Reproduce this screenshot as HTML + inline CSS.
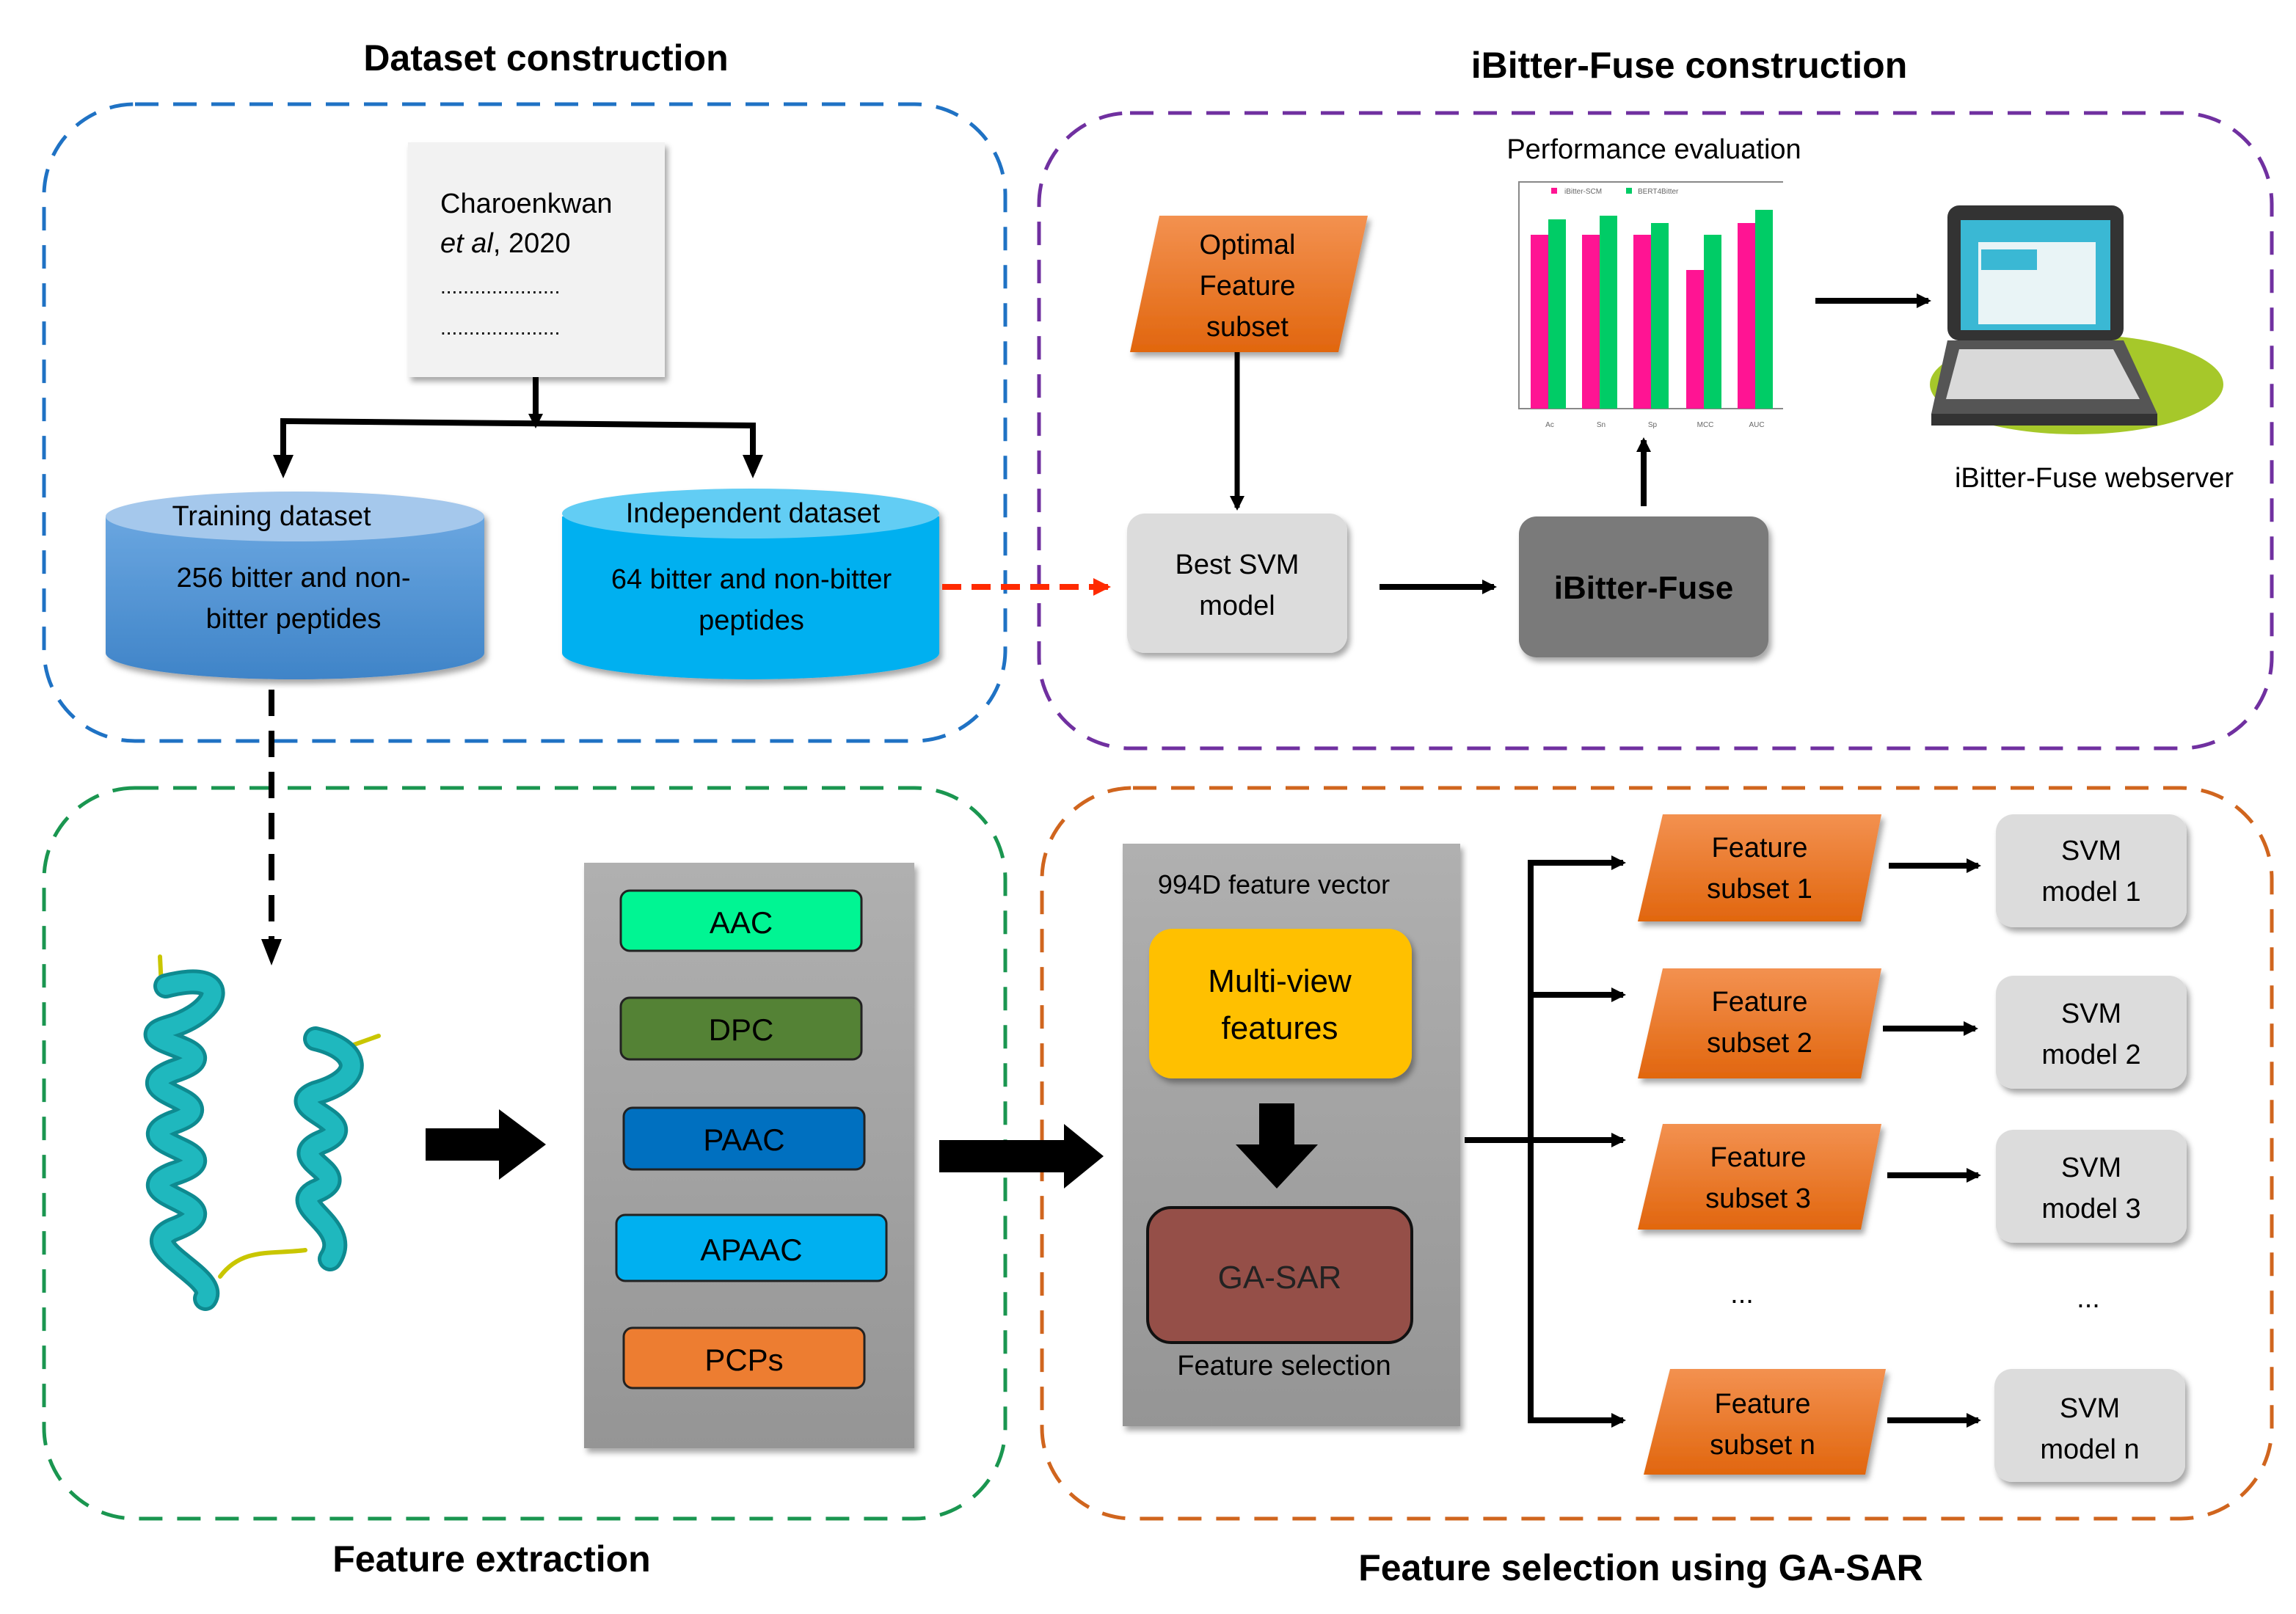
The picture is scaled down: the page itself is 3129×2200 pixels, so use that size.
<!DOCTYPE html>
<html><head><meta charset="utf-8"><style>
html,body{margin:0;padding:0;background:#fff;}
svg{display:block;}
text{font-family:"Liberation Sans",sans-serif;}
</style></head><body>
<svg width="3129" height="2200" viewBox="0 0 1564.5 1100" xmlns="http://www.w3.org/2000/svg">
<defs>
<marker id="ah" markerWidth="10" markerHeight="10" refX="8" refY="5" orient="auto" markerUnits="userSpaceOnUse"><path d="M0,0 L10,5 L0,10 z" fill="#000"/></marker>
<marker id="ahr" markerWidth="12" markerHeight="12" refX="10" refY="6" orient="auto" markerUnits="userSpaceOnUse"><path d="M0,0 L12,6 L0,12 z" fill="#ff2a00"/></marker>
<linearGradient id="gTrain" x1="0" y1="0" x2="0" y2="1"><stop offset="0" stop-color="#6aa6e0"/><stop offset="1" stop-color="#3f84c8"/></linearGradient>
<linearGradient id="gOr" x1="0" y1="0" x2="0" y2="1"><stop offset="0" stop-color="#f39150"/><stop offset="1" stop-color="#e1660e"/></linearGradient>
<linearGradient id="gPanel" x1="0" y1="0" x2="0" y2="1"><stop offset="0" stop-color="#b0b0b0"/><stop offset="1" stop-color="#959595"/></linearGradient>
<filter id="sh" x="-10%" y="-10%" width="130%" height="130%"><feDropShadow dx="2" dy="3" stdDeviation="2" flood-color="#000" flood-opacity="0.35"/></filter>
</defs>

<text x="372" y="48" font-size="25" font-weight="bold" text-anchor="middle">Dataset construction</text>
<text x="1151" y="53" font-size="25" font-weight="bold" text-anchor="middle">iBitter-Fuse construction</text>
<text x="335" y="1071" font-size="25" font-weight="bold" text-anchor="middle">Feature extraction</text>
<text x="1118" y="1077" font-size="25" font-weight="bold" text-anchor="middle">Feature selection using GA-SAR</text>

<rect x="30" y="71" width="655" height="434" rx="62" fill="none" stroke="#1f72c4" stroke-width="2.5" stroke-dasharray="16,10"/>
<rect x="708" y="77" width="840" height="433" rx="62" fill="none" stroke="#7030a0" stroke-width="2.5" stroke-dasharray="16,10"/>
<rect x="30" y="537" width="655" height="498" rx="62" fill="none" stroke="#1a9650" stroke-width="2.5" stroke-dasharray="16,10"/>
<rect x="710" y="537" width="838" height="498" rx="62" fill="none" stroke="#d0651e" stroke-width="2.5" stroke-dasharray="16,10"/>

<rect x="278" y="97" width="175" height="160" fill="#f2f2f2" filter="url(#sh)"/>
<text x="300" y="145" font-size="19">Charoenkwan</text>
<text x="300" y="172" font-size="19"><tspan font-style="italic">et al</tspan>, 2020</text>
<text x="300" y="200" font-size="14">.....................</text>
<text x="300" y="228" font-size="14">.....................</text>

<line x1="365" y1="257" x2="365" y2="290" stroke="#000" stroke-width="4" marker-end="url(#ah)"/>
<polyline points="193,322 193,287 513,290 513,322" fill="none" stroke="#000" stroke-width="4"/>
<path d="M186,310 L200,310 L193,326z M506,310 L520,310 L513,326z" fill="#000"/>

<g filter="url(#sh)">
<path d="M72,352 L72,445 A129,18 0 0 0 330,445 L330,352 z" fill="url(#gTrain)"/>
<ellipse cx="201" cy="352" rx="129" ry="17" fill="#a5c8ec"/>
<path d="M383,352 L383,445 A128.5,18 0 0 0 640,445 L640,352 z" fill="#00b0f0"/>
<ellipse cx="511.5" cy="350" rx="128.5" ry="17" fill="#62cdf4"/>
</g>
<text x="185" y="358" font-size="19" text-anchor="middle">Training dataset</text>
<text x="200" y="400" font-size="19" text-anchor="middle">256 bitter and non-</text>
<text x="200" y="428" font-size="19" text-anchor="middle">bitter peptides</text>
<text x="513" y="356" font-size="19" text-anchor="middle">Independent dataset</text>
<text x="512" y="401" font-size="19" text-anchor="middle">64 bitter and non-bitter</text>
<text x="512" y="429" font-size="19" text-anchor="middle">peptides</text>

<line x1="642" y1="400" x2="755" y2="400" stroke="#ff2a00" stroke-width="4" stroke-dasharray="13,7" marker-end="url(#ahr)"/>
<line x1="185" y1="470" x2="185" y2="648" stroke="#000" stroke-width="4" stroke-dasharray="18,10"/>
<path d="M178,640 L192,640 L185,658z" fill="#000"/>

<path d="M790,147 L932,147 L912,240 L770,240 z" fill="url(#gOr)" filter="url(#sh)"/>
<text x="850" y="173" font-size="19" text-anchor="middle">Optimal</text>
<text x="850" y="201" font-size="19" text-anchor="middle">Feature</text>
<text x="850" y="229" font-size="19" text-anchor="middle">subset</text>
<line x1="843" y1="240" x2="843" y2="346" stroke="#000" stroke-width="3.5" marker-end="url(#ah)"/>

<rect x="768" y="350" width="150" height="95" rx="12" fill="#dcdcdc" filter="url(#sh)"/>
<text x="843" y="391" font-size="19" text-anchor="middle">Best SVM</text>
<text x="843" y="419" font-size="19" text-anchor="middle">model</text>
<line x1="940" y1="400" x2="1018" y2="400" stroke="#000" stroke-width="4" marker-end="url(#ah)"/>

<rect x="1035" y="352" width="170" height="96" rx="12" fill="#7a7a7a" filter="url(#sh)"/>
<text x="1120" y="408" font-size="22" font-weight="bold" text-anchor="middle">iBitter-Fuse</text>
<line x1="1120" y1="345" x2="1120" y2="300" stroke="#000" stroke-width="4" marker-end="url(#ah)"/>

<text x="1127" y="108" font-size="19" text-anchor="middle">Performance evaluation</text>
<polyline points="1215,124 1035,124 1035,278.5 1215,278.5" fill="none" stroke="#888" stroke-width="1"/>
<g fill="#ff1493">
<rect x="1043" y="160" width="12" height="118.5"/><rect x="1078" y="160" width="12" height="118.5"/><rect x="1113" y="160" width="12" height="118.5"/><rect x="1149" y="184" width="12" height="94.5"/><rect x="1184" y="152" width="12" height="126.5"/>
</g>
<g fill="#00cc66">
<rect x="1055" y="149.5" width="12" height="129"/><rect x="1090" y="147" width="12" height="131.5"/><rect x="1125" y="152" width="12" height="126.5"/><rect x="1161" y="160" width="12" height="118.5"/><rect x="1196" y="143" width="12" height="135.5"/>
</g>
<rect x="1057" y="128" width="4" height="4" fill="#ff1493"/><rect x="1108" y="128" width="4" height="4" fill="#00cc66"/>
<text x="1066" y="132" font-size="5" fill="#666">iBitter-SCM</text><text x="1116" y="132" font-size="5" fill="#666">BERT4Bitter</text>
<g font-size="5" fill="#666" text-anchor="middle"><text x="1056" y="291">Ac</text><text x="1091" y="291">Sn</text><text x="1126" y="291">Sp</text><text x="1162" y="291">MCC</text><text x="1197" y="291">AUC</text></g>

<line x1="1237" y1="205" x2="1314" y2="205" stroke="#000" stroke-width="4" marker-end="url(#ah)"/>

<ellipse cx="1415" cy="262" rx="100" ry="34" fill="#a6c82a"/>
<rect x="1327" y="140" width="120" height="92" rx="8" fill="#333"/>
<rect x="1336" y="150" width="102" height="75" fill="#3ab8d4"/>
<rect x="1348" y="165" width="80" height="56" fill="#e9f4f6"/>
<rect x="1350" y="170" width="38" height="14" fill="#3ab8d4"/>
<path d="M1327,232 L1447,232 L1470,282 L1316,282 z" fill="#555"/>
<path d="M1335,238 L1440,238 L1458,272 L1326,272 z" fill="#d9d9d9"/>
<rect x="1316" y="282" width="154" height="8" fill="#333"/>
<text x="1427" y="332" font-size="19" text-anchor="middle">iBitter-Fuse webserver</text>

<g fill="none" stroke-linecap="round">
<path d="M109,652 L110,672" stroke="#c9c600" stroke-width="3"/>
<path d="M150,870 C165,850 185,855 208,852" stroke="#c9c600" stroke-width="3"/>
<path d="M230,716 L258,706" stroke="#c9c600" stroke-width="3"/>
<path d="M113,672 C160,660 150,690 115,700 C80,710 165,715 118,730 C80,745 160,750 118,765 C80,780 165,785 118,800 C80,815 165,820 118,838 C90,850 150,870 140,885" stroke="#0e8a90" stroke-width="17"/>
<path d="M113,672 C160,660 150,690 115,700 C80,710 165,715 118,730 C80,745 160,750 118,765 C80,780 165,785 118,800 C80,815 165,820 118,838 C90,850 150,870 140,885" stroke="#1fb8be" stroke-width="12"/>
<path d="M215,708 C245,715 250,735 215,745 C190,755 250,765 220,778 C190,790 245,800 215,812 C195,822 240,835 225,858" stroke="#0e8a90" stroke-width="17"/>
<path d="M215,708 C245,715 250,735 215,745 C190,755 250,765 220,778 C190,790 245,800 215,812 C195,822 240,835 225,858" stroke="#1fb8be" stroke-width="12"/>
</g>

<path d="M290,769 L340,769 L340,756 L372,780 L340,804 L340,791 L290,791 z" fill="#000"/>

<rect x="398" y="588" width="225" height="399" fill="url(#gPanel)" filter="url(#sh)"/>
<g stroke="#222" stroke-width="1.5">
<rect x="423" y="607" width="164" height="41" rx="6" fill="#00f593"/>
<rect x="423" y="680" width="164" height="42" rx="6" fill="#548235"/>
<rect x="425" y="755" width="164" height="42" rx="6" fill="#0070c0"/>
<rect x="420" y="828" width="184" height="45" rx="6" fill="#00b0f0"/>
<rect x="425" y="905" width="164" height="41" rx="6" fill="#ed7d31"/>
</g>
<g font-size="21" text-anchor="middle">
<text x="505" y="636">AAC</text><text x="505" y="709">DPC</text><text x="507" y="784">PAAC</text><text x="512" y="859">APAAC</text><text x="507" y="934">PCPs</text>
</g>

<path d="M640,777 L725,777 L725,766 L752,788 L725,810 L725,799 L640,799 z" fill="#000"/>

<rect x="765" y="575" width="230" height="397" fill="url(#gPanel)" filter="url(#sh)"/>
<text x="868" y="609" font-size="18" text-anchor="middle">994D feature vector</text>
<rect x="783" y="633" width="179" height="102" rx="16" fill="#ffc000" filter="url(#sh)"/>
<text x="872" y="676" font-size="22" text-anchor="middle">Multi-view</text>
<text x="872" y="708" font-size="22" text-anchor="middle">features</text>
<path d="M858,752 L882,752 L882,780 L898,780 L870,810 L842,780 L858,780 z" fill="#000"/>
<rect x="782" y="823" width="180" height="92" rx="16" fill="#954f48" stroke="#111" stroke-width="2"/>
<text x="872" y="878" font-size="22" text-anchor="middle" fill="#222">GA-SAR</text>
<text x="875" y="937" font-size="19" text-anchor="middle">Feature selection</text>

<line x1="998" y1="777" x2="1043" y2="777" stroke="#000" stroke-width="4"/>
<line x1="1043" y1="588" x2="1043" y2="970" stroke="#000" stroke-width="4"/>
<g stroke="#000" stroke-width="4" marker-end="url(#ah)">
<line x1="1041" y1="588" x2="1106" y2="588"/>
<line x1="1041" y1="678" x2="1106" y2="678"/>
<line x1="1043" y1="777" x2="1106" y2="777"/>
<line x1="1041" y1="968" x2="1106" y2="968"/>
<line x1="1287" y1="590" x2="1348" y2="590"/>
<line x1="1283" y1="701" x2="1346" y2="701"/>
<line x1="1286" y1="801" x2="1348" y2="801"/>
<line x1="1286" y1="968" x2="1348" y2="968"/>
</g>

<g fill="url(#gOr)" filter="url(#sh)">
<path d="M1133,555 L1282,555 L1268,628 L1116,628 z"/>
<path d="M1133,660 L1282,660 L1268,735 L1116,735 z"/>
<path d="M1133,766 L1282,766 L1268,838 L1116,838 z"/>
<path d="M1138,933 L1285,933 L1271,1005 L1120,1005 z"/>
</g>
<g font-size="19" text-anchor="middle">
<text x="1199" y="584">Feature</text><text x="1199" y="612">subset 1</text>
<text x="1199" y="689">Feature</text><text x="1199" y="717">subset 2</text>
<text x="1198" y="795">Feature</text><text x="1198" y="823">subset 3</text>
<text x="1201" y="963">Feature</text><text x="1201" y="991">subset n</text>
<text x="1187" y="888">...</text><text x="1423" y="891">...</text>
</g>

<g fill="#dcdcdc" filter="url(#sh)">
<rect x="1360" y="555" width="130" height="77" rx="12"/>
<rect x="1360" y="665" width="130" height="77" rx="12"/>
<rect x="1360" y="770" width="130" height="77" rx="12"/>
<rect x="1359" y="933" width="130" height="77" rx="12"/>
</g>
<g font-size="19" text-anchor="middle">
<text x="1425" y="586">SVM</text><text x="1425" y="614">model 1</text>
<text x="1425" y="697">SVM</text><text x="1425" y="725">model 2</text>
<text x="1425" y="802">SVM</text><text x="1425" y="830">model 3</text>
<text x="1424" y="966">SVM</text><text x="1424" y="994">model n</text>
</g>
</svg>
</body></html>
